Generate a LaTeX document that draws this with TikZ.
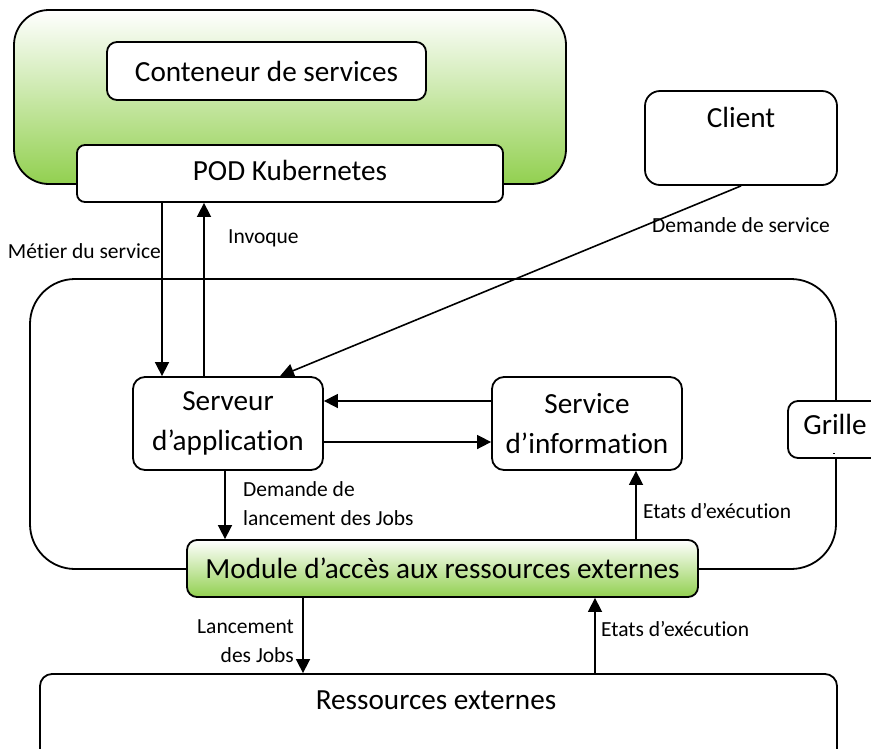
\documentclass[tikz,border=0pt]{standalone}
\usepackage{fontspec}
\setmainfont{Carlito}[Ligatures=NoCommon]
\usetikzlibrary{arrows.meta}
\definecolor{leafgreen}{RGB}{146,208,80}
\begin{document}
\begin{tikzpicture}[x=1pt,y=-1pt,
  box/.style={draw, line width=1.8pt, fill=white, rounded corners=#1, inner sep=0pt, align=center,
    font=\fontsize{29.2}{40}\selectfont},
  box/.default=10pt,
  greenbox/.style={box=#1, fill=none, top color=white, bottom color=leafgreen},
  bigtxt/.style={inner sep=0pt, font=\fontsize{29.2}{40}\selectfont},
  lbl/.style={inner sep=0pt, font=\fontsize{21.5}{29}\selectfont},
  arr/.style={line width=1.6pt, -{Triangle[length=14pt,width=14pt]}}
]
\clip (0,0) rectangle (871,748);
\fill[white] (0,0) rectangle (871,748);

% service container layer
\node[greenbox=35pt, minimum width=552pt, minimum height=174pt] (svc) at (290,97) {};
\node[box=10pt, minimum width=319pt, minimum height=58pt] (cont) at (266.5,71) {Conteneur de services};
\node[box=8pt, minimum width=426pt, minimum height=57pt] (pod) at (290,173.5) {};
\node[bigtxt] (podtxt) at (290,170) {POD Kubernetes};

% client
\node[box=15pt, minimum width=192pt, minimum height=94pt] (client) at (741,138) {};
\node[bigtxt] (clienttxt) at (741,117) {Client};

% grid
\node[box=45pt, fill=none, minimum width=806pt, minimum height=290pt] (grid) at (433,424) {};
\node[box=10pt, minimum width=112pt, minimum height=57pt] (grille) at (844,429.5) {};
\node[bigtxt] (grilletxt) at (835,424) {Grille};
\draw[line width=0.8pt] (833,453) -- (835,453);

\node[box=12pt, minimum width=190pt, minimum height=93pt] (serv) at (228,423.5) {Serveur\\d’application};
\node[box=12pt, minimum width=190pt, minimum height=93pt] (info) at (587,423.5) {Service\\d’information};
\node[greenbox=10pt, minimum width=511pt, minimum height=57pt] (module) at (442.5,568.5) {Module d’accès aux ressources externes};

% external resources
\node[box=12pt, minimum width=797pt, minimum height=116pt] (ress) at (438.5,732) {};
\node[bigtxt] (resstxt) at (436,700) {Ressources externes};

% positions of the connectors
\coordinate (xa) at (162,0);
\coordinate (xb) at (204,0);
\coordinate (xc) at (225,0);
\coordinate (xd) at (636,0);
\coordinate (xe) at (303,0);
\coordinate (xf) at (595,0);
\coordinate (ya) at (0,401);
\coordinate (yb) at (0,442);

\draw[arr] (pod.south -| xa) -- (serv.north -| xa);
\draw[arr] (serv.north -| xb) -- (pod.south -| xb);
\draw[arr] (client.south) -- ([xshift=52pt]serv.north);
\draw[arr] (info.west |- ya) -- (serv.east |- ya);
\draw[arr] (serv.east |- yb) -- (info.west |- yb);
\draw[arr] (serv.south -| xc) -- (module.north -| xc);
\draw[arr] (module.north -| xd) -- (info.south -| xd);
\draw[arr] (module.south -| xe) -- (ress.north -| xe);
\draw[arr] (ress.north -| xf) -- (module.south -| xf);

% connector labels
\node[lbl, anchor=east] (l1) at (161,251) {Métier du service};
\node[lbl, anchor=west] (l2) at (228,238) {Invoque};
\node[lbl] (l3) at (741,225) {Demande de service};
\node[lbl, anchor=west, align=left] (l4) at (243,504) {Demande de\\lancement des Jobs};
\node[lbl, anchor=west] (l5) at (643,511) {Etats d’exécution};
\node[lbl, anchor=east, align=right] (l6) at (294,641) {Lancement\\des Jobs};
\node[lbl, anchor=west] (l7) at (601,629) {Etats d’exécution};
\end{tikzpicture}
\end{document}
